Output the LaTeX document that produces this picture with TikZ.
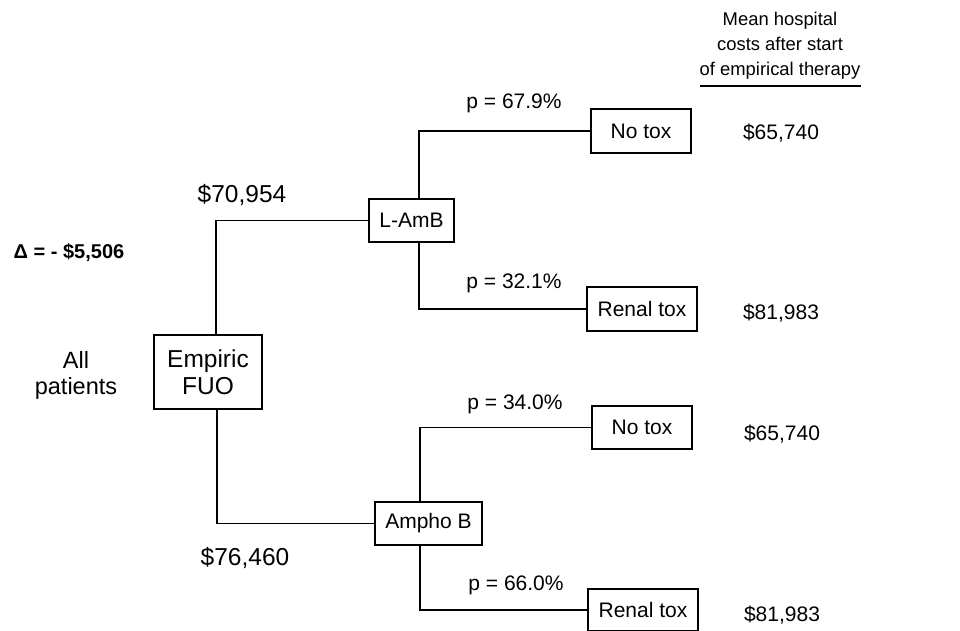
\documentclass[tikz,border=0pt]{standalone}
\usepackage{fontspec}
\setmainfont{Liberation Sans}
\usepackage{tikz}

\begin{document}
\begin{tikzpicture}[x=1pt,y=-1pt,
  box/.style={draw,line width=1.3pt,inner sep=0pt,font=\fontsize{21}{24}\selectfont},
  lbl/.style={font=\fontsize{21}{24}\selectfont},
  big/.style={font=\fontsize{24.5}{28}\selectfont,align=center},
  conn/.style={line width=1.4pt}]
  \useasboundingbox (0,0) rectangle (960,631);

  % Nudos de decisión
  \node[box,big,minimum width=108pt,minimum height=74pt,font=\fontsize{24.5}{27}\selectfont] (fuo) at (208,372) {Empiric\\FUO};
  \node[box,minimum width=85pt,minimum height=43pt] (lamb) at (411.5,220.5) {L-AmB};
  \node[box,minimum width=107pt,minimum height=43pt] (ampho) at (428.5,523.5) {Ampho B};

  % Nudos terminales
  \node[box,minimum width=100pt,minimum height=44pt] (notoxA) at (641,131) {No tox};
  \node[box,minimum width=110pt,minimum height=44pt] (renalA) at (642,309) {Renal tox};
  \node[box,minimum width=100pt,minimum height=43pt] (notoxB) at (642,427.5) {No tox};
  \node[box,minimum width=110pt,minimum height=42pt] (renalB) at (643,610) {Renal tox};

  % Ramas
  \draw[conn] ([xshift=8pt]fuo.north) |- (lamb.west);
  \draw[conn] ([xshift=9pt]fuo.south) |- (ampho.west);
  \draw[conn] ([xshift=7.5pt]lamb.north) |- (notoxA.west);
  \draw[conn] ([xshift=7.5pt]lamb.south) |- (renalA.west);
  \draw[conn] ([xshift=-8.5pt]ampho.north) |- (notoxB.west);
  \draw[conn] ([xshift=-8.5pt]ampho.south) |- (renalB.west);

  % Probabilidades
  \node[lbl] (pA) at (514,103) {p = 67.9\%};
  \node[lbl] (pB) at (514,283) {p = 32.1\%};
  \node[lbl] (pC) at (515,404) {p = 34.0\%};
  \node[lbl] (pD) at (516,585) {p = 66.0\%};

  % Costes esperados
  \node[big] (costA) at (242,195) {\$70,954};
  \node[big] (costB) at (245,558) {\$76,460};
  \node[font=\bfseries\fontsize{20}{24}\selectfont] (delta) at (69,253) {Δ = - \$5,506};
  \node[font=\fontsize{23.5}{26}\selectfont,align=center] (all) at (76,375) {All\\patients};

  % Costes finales
  \node[font=\fontsize{18.4}{25}\selectfont,align=center] (head) at (780,46)
     {Mean hospital\\costs after start\\of empirical therapy};
  \draw[line width=1.2pt] (700,86) -- (861,86);
  \node[lbl] (vA) at (781,133) {\$65,740};
  \node[lbl] (vB) at (781,313) {\$81,983};
  \node[lbl] (vC) at (782,434) {\$65,740};
  \node[lbl] (vD) at (782,615) {\$81,983};
\end{tikzpicture}
\end{document}
